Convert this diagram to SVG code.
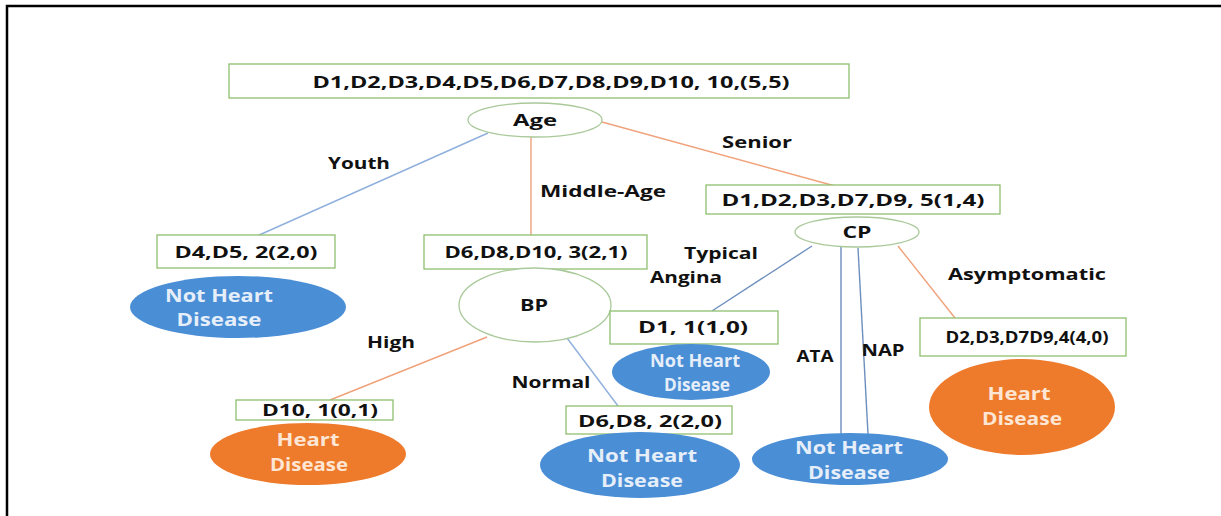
<svg xmlns="http://www.w3.org/2000/svg" width="1221" height="516" viewBox="0 0 1221 516">
  <style>
    text { font-family: "Open Sans", "Liberation Sans", sans-serif; font-weight: 700; text-anchor: middle; }
    .box { fill: #ffffff; stroke: #8fbf6e; stroke-width: 1.3; }
    .split { fill: #ffffff; stroke: #a9c99a; stroke-width: 1.3; }
    .leaf-no { fill: #4a8ed6; }
    .leaf-yes { fill: #ee7a2c; }
    .lbl { font-size: 16px; fill: #111; }
    .edge-lbl { font-size: 16px; fill: #111; }
    .leaf-txt-no { font-size: 17px; fill: #e6eef9; }
    .leaf-txt-yes { font-size: 17px; fill: #fde6d4; }
    .c-blue { stroke: #8fb0dc; stroke-width: 1.4; fill: none; }
    .c-orange { stroke: #f0a27a; stroke-width: 1.4; fill: none; }
    .c-navy { stroke: #6d8fbf; stroke-width: 1.4; fill: none; }
  </style>

  <rect x="0" y="0" width="1221" height="516" fill="#ffffff"/>
  <!-- frame -->
  <path d="M7,516 V6 H1221" fill="none" stroke="#000" stroke-width="2.5"/>

  <!-- connectors -->
  <g id="connectors">
    <line class="c-blue" x1="488" y1="133" x2="257" y2="236"/>
    <line class="c-orange" x1="531" y1="137" x2="531" y2="235"/>
    <line class="c-orange" x1="602" y1="122" x2="835" y2="186"/>
    <line class="c-navy" x1="812" y1="246" x2="712" y2="311"/>
    <line class="c-navy" x1="841" y1="247" x2="841" y2="434"/>
    <line class="c-navy" x1="858" y1="248" x2="868" y2="434"/>
    <line class="c-orange" x1="898" y1="246" x2="955" y2="318"/>
    <line class="c-orange" x1="487" y1="337" x2="330" y2="400"/>
    <line class="c-blue" x1="567" y1="338" x2="618" y2="406"/>
    <text class="edge-lbl" x="359" y="169" textLength="62" lengthAdjust="spacingAndGlyphs">Youth</text>
    <text class="edge-lbl" x="603" y="197" textLength="126" lengthAdjust="spacingAndGlyphs">Middle-Age</text>
    <text class="edge-lbl" x="757" y="148" textLength="70" lengthAdjust="spacingAndGlyphs">Senior</text>
    <text class="edge-lbl" x="721" y="259" textLength="74" lengthAdjust="spacingAndGlyphs">Typical</text>
    <text class="edge-lbl" x="686" y="283" textLength="72" lengthAdjust="spacingAndGlyphs">Angina</text>
    <text class="edge-lbl" x="1027" y="280" textLength="158" lengthAdjust="spacingAndGlyphs">Asymptomatic</text>
    <text class="edge-lbl" x="391" y="348" textLength="48" lengthAdjust="spacingAndGlyphs">High</text>
    <text class="edge-lbl" x="551" y="388" textLength="79" lengthAdjust="spacingAndGlyphs">Normal</text>
    <text class="edge-lbl" x="815" y="362" textLength="37" lengthAdjust="spacingAndGlyphs">ATA</text>
    <text class="edge-lbl" x="883" y="356" textLength="43" lengthAdjust="spacingAndGlyphs">NAP</text>
  </g>

  <!-- root -->
  <g id="root">
    <rect class="box" x="229" y="64" width="620" height="34"/>
    <text class="lbl" x="551" y="88" font-size="17" textLength="477" lengthAdjust="spacingAndGlyphs">D1,D2,D3,D4,D5,D6,D7,D8,D9,D10, 10,(5,5)</text>
  </g>

  <g id="age">
    <ellipse class="split" cx="535" cy="120" rx="67" ry="17"/>
    <text class="lbl" x="535" y="126" textLength="44" lengthAdjust="spacingAndGlyphs">Age</text>
  </g>

  <g id="youth-set">
    <rect class="box" x="157" y="235" width="178" height="33"/>
    <text class="lbl" x="246" y="258" textLength="143" lengthAdjust="spacingAndGlyphs">D4,D5, 2(2,0)</text>
  </g>
  <g id="youth-leaf">
    <ellipse class="leaf-no" cx="238" cy="307" rx="108" ry="31"/>
    <text class="leaf-txt-no" x="219" y="302" textLength="108" lengthAdjust="spacingAndGlyphs">Not Heart</text>
    <text class="leaf-txt-no" x="219" y="326" textLength="85" lengthAdjust="spacingAndGlyphs">Disease</text>
  </g>

  <g id="middle-set">
    <rect class="box" x="424" y="235" width="223" height="34"/>
    <text class="lbl" x="536" y="258" textLength="183" lengthAdjust="spacingAndGlyphs">D6,D8,D10, 3(2,1)</text>
  </g>
  <g id="bp">
    <ellipse class="split" cx="535" cy="305" rx="76" ry="37"/>
    <text class="lbl" x="534" y="311" textLength="28" lengthAdjust="spacingAndGlyphs">BP</text>
  </g>

  <g id="senior-set">
    <rect class="box" x="706" y="185" width="294" height="29"/>
    <text class="lbl" x="853" y="206" textLength="263" lengthAdjust="spacingAndGlyphs">D1,D2,D3,D7,D9, 5(1,4)</text>
  </g>
  <g id="cp">
    <ellipse class="split" cx="857" cy="232" rx="62" ry="15"/>
    <text class="lbl" x="857" y="238" textLength="29" lengthAdjust="spacingAndGlyphs">CP</text>
  </g>

  <g id="typical-set">
    <rect class="box" x="610" y="311" width="168" height="33"/>
    <text class="lbl" x="693" y="333" textLength="110" lengthAdjust="spacingAndGlyphs">D1, 1(1,0)</text>
  </g>
  <g id="typical-leaf">
    <ellipse class="leaf-no" cx="691" cy="372" rx="79" ry="28"/>
    <text class="leaf-txt-no" x="695" y="367" textLength="90" lengthAdjust="spacingAndGlyphs">Not Heart</text>
    <text class="leaf-txt-no" x="697" y="391" textLength="66" lengthAdjust="spacingAndGlyphs">Disease</text>
  </g>

  <g id="asym-set">
    <rect class="box" x="920" y="318" width="206" height="38"/>
    <text class="lbl" x="1027" y="343" font-size="14" textLength="163" lengthAdjust="spacingAndGlyphs">D2,D3,D7D9,4(4,0)</text>
  </g>
  <g id="asym-leaf">
    <ellipse class="leaf-yes" cx="1022" cy="407" rx="93" ry="48"/>
    <text class="leaf-txt-yes" x="1019" y="400" textLength="63" lengthAdjust="spacingAndGlyphs">Heart</text>
    <text class="leaf-txt-yes" x="1022" y="425" textLength="80" lengthAdjust="spacingAndGlyphs">Disease</text>
  </g>

  <g id="ata-nap-leaf">
    <ellipse class="leaf-no" cx="850" cy="459" rx="98" ry="26"/>
    <text class="leaf-txt-no" x="849" y="454" textLength="108" lengthAdjust="spacingAndGlyphs">Not Heart</text>
    <text class="leaf-txt-no" x="849" y="479" textLength="82" lengthAdjust="spacingAndGlyphs">Disease</text>
  </g>

  <g id="high-set">
    <rect class="box" x="236" y="400" width="157" height="20"/>
    <text class="lbl" x="320" y="416" textLength="116" lengthAdjust="spacingAndGlyphs">D10, 1(0,1)</text>
  </g>
  <g id="high-leaf">
    <ellipse class="leaf-yes" cx="308" cy="454" rx="98" ry="31"/>
    <text class="leaf-txt-yes" x="308" y="446" textLength="63" lengthAdjust="spacingAndGlyphs">Heart</text>
    <text class="leaf-txt-yes" x="309" y="471" textLength="78" lengthAdjust="spacingAndGlyphs">Disease</text>
  </g>

  <g id="normal-set">
    <rect class="box" x="566" y="406" width="166" height="28"/>
    <text class="lbl" x="650" y="427" textLength="144" lengthAdjust="spacingAndGlyphs">D6,D8, 2(2,0)</text>
  </g>
  <g id="normal-leaf">
    <ellipse class="leaf-no" cx="640" cy="465" rx="100" ry="33"/>
    <text class="leaf-txt-no" x="642" y="462" textLength="110" lengthAdjust="spacingAndGlyphs">Not Heart</text>
    <text class="leaf-txt-no" x="642" y="487" textLength="82" lengthAdjust="spacingAndGlyphs">Disease</text>
  </g>
</svg>
